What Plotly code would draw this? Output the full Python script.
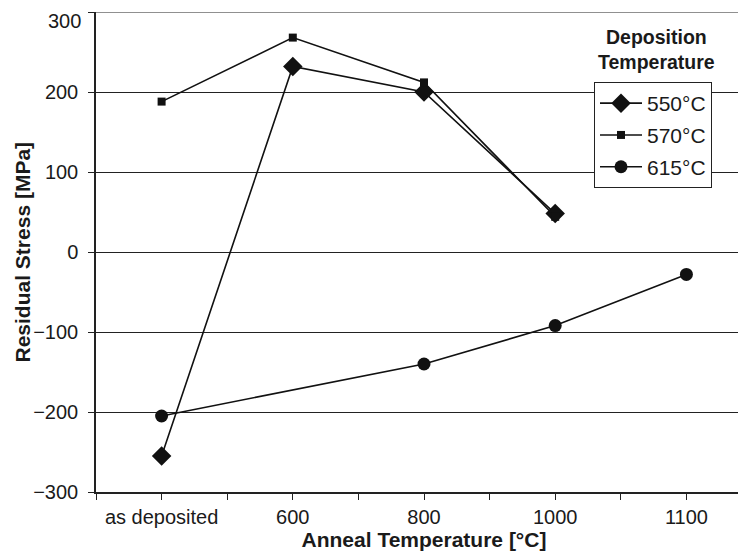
import plotly.graph_objects as go

categories = ["as deposited", "600", "800", "1000", "1100"]
s550 = [-255, 232, 200, 48, None]
s570 = [188, 268, 212, 44, None]
s615 = [-205, None, -140, -92, -28]
series_names = ["550°C", "570°C", "615°C"]
y_ticks = [-300, -200, -100, 0, 100, 200, 300]
y_labels = [str(v).replace("-", "\u2212") for v in y_ticks]

xpos = list(range(len(categories)))
FONT = "Liberation Sans, Arial, sans-serif"
TXT = "#1a1a1a"

fig = go.Figure()
styles = [("diamond", 15), ("square", 8), ("circle", 13)]
for i, (name, vals, (sym, sz)) in enumerate(zip(series_names, [s550, s570, s615], styles)):
    fig.add_trace(go.Scatter(
        x=xpos, y=vals, name=name, mode="lines+markers", connectgaps=True,
        legendgroup=f"g{i}",
        line=dict(color="#111111", width=1.6),
        marker=dict(symbol=sym, size=sz, color="#111111"),
    ))

# page offset of 8px (body margin); plot area in page px: left 96, top 12, width 656, height 480
OFF = 8
L, T, W, H = 96, 12, 656, 480
def px(xp):
    return (xp - L) / W
def py(yp):
    return 1 - (yp - T) / H

# the top tick label would be clipped at the figure edge: draw it as an annotation just below
tick_text = [lab if v != max(y_ticks) else "" for v, lab in zip(y_ticks, y_labels)]
top_label = dict(text=y_labels[-1], xref="paper", yref="y", x=0, y=max(y_ticks),
                 xanchor="right", yanchor="top", xshift=-13, yshift=4,
                 showarrow=False, font=dict(size=20, color=TXT))
y_title = dict(text="<b>Residual Stress [MPa]</b>", xref="paper", yref="paper",
               x=px(8), y=0.5, xanchor="left", yanchor="middle", textangle=-90,
               showarrow=False, font=dict(size=21, color=TXT))

fig.update_layout(
    width=746, height=558,
    margin=dict(l=L - OFF, r=746 - (L - OFF) - W, t=T - OFF, b=558 - (T - OFF) - H),
    paper_bgcolor="white", plot_bgcolor="white",
    font=dict(family=FONT, size=20, color=TXT),
    showlegend=True,
    legend=dict(x=px(594), y=py(82), xanchor="left", yanchor="top",
                bgcolor="white", bordercolor="#222222", borderwidth=1,
                font=dict(size=21), tracegroupgap=1.5, itemwidth=42),
    annotations=[dict(text="<b>Deposition<br>Temperature</b>",
                      x=px(656), y=py(49),
                      xanchor="center", yanchor="middle",
                      xref="paper", yref="paper", showarrow=False,
                      font=dict(size=19.5)),
                 top_label, y_title],
    shapes=[dict(type="line", xref="paper", yref="y", x0=0, x1=1, y0=300, y1=300,
                 line=dict(color="#222222", width=1), layer="below")],
)

fig.update_xaxes(
    range=[-0.5, 4.5], tickvals=xpos, ticktext=categories,
    showline=True, linecolor="#222222", linewidth=1.5,
    ticks="outside", ticklen=6, tickcolor="#222222",
    minor=dict(tickvals=[-0.5, 0.5, 1.5, 2.5, 3.5, 4.5], ticks="outside", ticklen=6, tickcolor="#222222"),
    showgrid=False, zeroline=False, automargin=False,
    tickfont=dict(size=20),
    title=dict(text="<b>Anneal Temperature [°C]</b>", font=dict(size=21), standoff=5),
)
fig.update_yaxes(
    range=[-300, 300], tickvals=y_ticks, ticktext=tick_text,
    showline=True, linecolor="#222222", linewidth=1.5,
    ticks="outside", ticklen=6, tickcolor="#222222", ticklabelstandoff=6,
    showgrid=True, gridcolor="#222222", gridwidth=1,
    zeroline=False, automargin=False,
    tickfont=dict(size=20),
)

fig.write_html("out.html")
